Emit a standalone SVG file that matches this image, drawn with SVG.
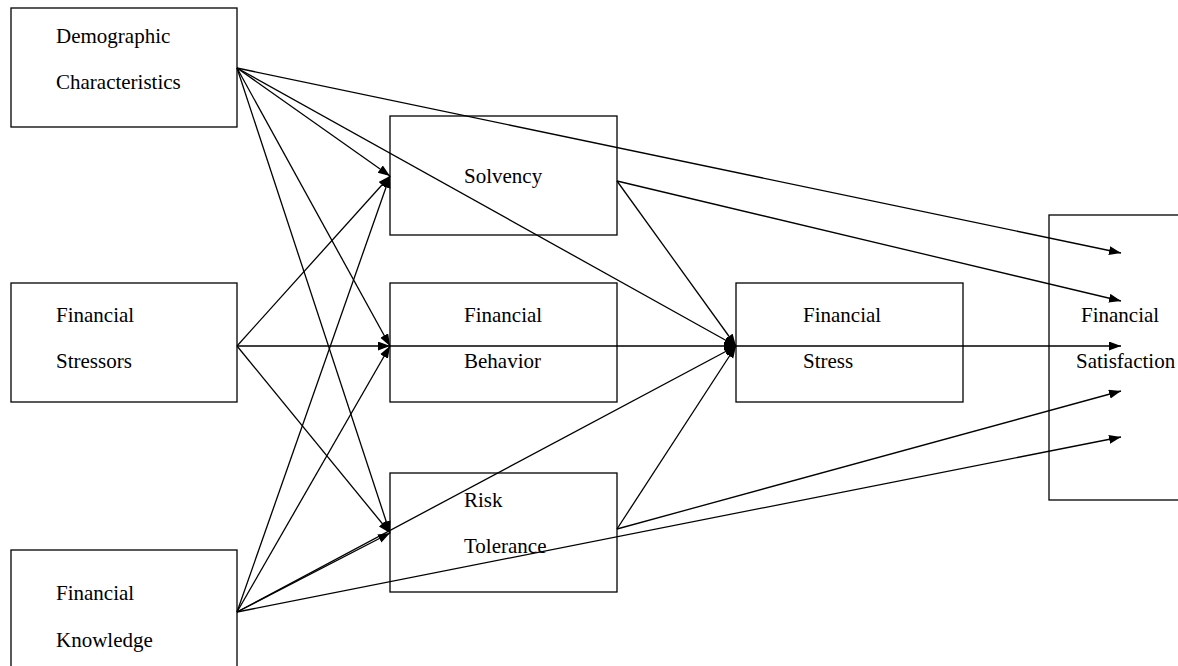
<svg xmlns="http://www.w3.org/2000/svg" width="1178" height="666" viewBox="0 0 1178 666">
<style>
.box{fill:#fff;stroke:#000;stroke-width:1.3}
.lbl{font-family:"Liberation Serif","Times New Roman",serif;font-size:21px;fill:#000}
.c{stroke:#000;stroke-width:1.3;fill:none}
.a{marker-end:url(#arr)}
</style>
<defs>
<marker id="arr" markerUnits="userSpaceOnUse" markerWidth="14" markerHeight="10" refX="12" refY="4.5" orient="auto">
<path d="M0,0 L12,4.5 L0,9 z" fill="#000"/>
</marker>
</defs>
<rect width="1178" height="666" fill="#fff"/>
<g id="n-demo"><rect class="box" x="11" y="8" width="226" height="119"/><text class="lbl" x="56" y="43">Demographic</text><text class="lbl" x="56" y="89">Characteristics</text></g>
<g id="n-stressors"><rect class="box" x="11" y="283" width="226" height="119"/><text class="lbl" x="56" y="322">Financial</text><text class="lbl" x="56" y="368">Stressors</text></g>
<g id="n-knowledge"><rect class="box" x="11" y="550" width="226" height="130"/><text class="lbl" x="56" y="600">Financial</text><text class="lbl" x="56" y="647">Knowledge</text></g>
<g id="n-solvency"><rect class="box" x="390" y="116" width="227" height="119"/><text class="lbl" x="464" y="183">Solvency</text></g>
<g id="n-behavior"><rect class="box" x="390" y="283" width="227" height="119"/><text class="lbl" x="464" y="322">Financial</text><text class="lbl" x="464" y="368">Behavior</text></g>
<g id="n-risk"><rect class="box" x="390" y="473" width="227" height="119"/><text class="lbl" x="464" y="507">Risk</text><text class="lbl" x="464" y="553">Tolerance</text></g>
<g id="n-stress"><rect class="box" x="736" y="283" width="227" height="119"/><text class="lbl" x="803" y="322">Financial</text><text class="lbl" x="803" y="368">Stress</text></g>
<g id="n-satisfaction"><rect class="box" x="1049" y="215" width="140" height="285"/><text class="lbl" x="1081" y="322">Financial</text><text class="lbl" x="1076" y="368">Satisfaction</text></g>
<g id="connectors">
<line class="c a" x1="237" y1="68" x2="390" y2="176"/>
<line class="c a" x1="237" y1="68" x2="390" y2="346"/>
<line class="c a" x1="237" y1="68" x2="390" y2="533"/>
<line class="c a" x1="237" y1="68" x2="736" y2="346"/>
<line class="c a" x1="237" y1="68" x2="1121" y2="253"/>
<line class="c a" x1="237" y1="346" x2="390" y2="176"/>
<line class="c a" x1="237" y1="346" x2="390" y2="346"/>
<line class="c a" x1="237" y1="346" x2="390" y2="533"/>
<line class="c a" x1="237" y1="612" x2="390" y2="176"/>
<line class="c a" x1="237" y1="612" x2="390" y2="346"/>
<line class="c a" x1="237" y1="612" x2="390" y2="533"/>
<line class="c a" x1="237" y1="612" x2="736" y2="346"/>
<line class="c a" x1="237" y1="612" x2="1121" y2="437"/>
<line class="c a" x1="617" y1="181" x2="1121" y2="301"/>
<line class="c a" x1="617" y1="181" x2="736" y2="346"/>
<line class="c a" x1="390" y1="346" x2="736" y2="346"/>
<line class="c a" x1="617" y1="529" x2="736" y2="346"/>
<line class="c a" x1="617" y1="529" x2="1121" y2="391"/>
<line class="c a" x1="736" y1="346" x2="1121" y2="346"/>
</g>
</svg>
